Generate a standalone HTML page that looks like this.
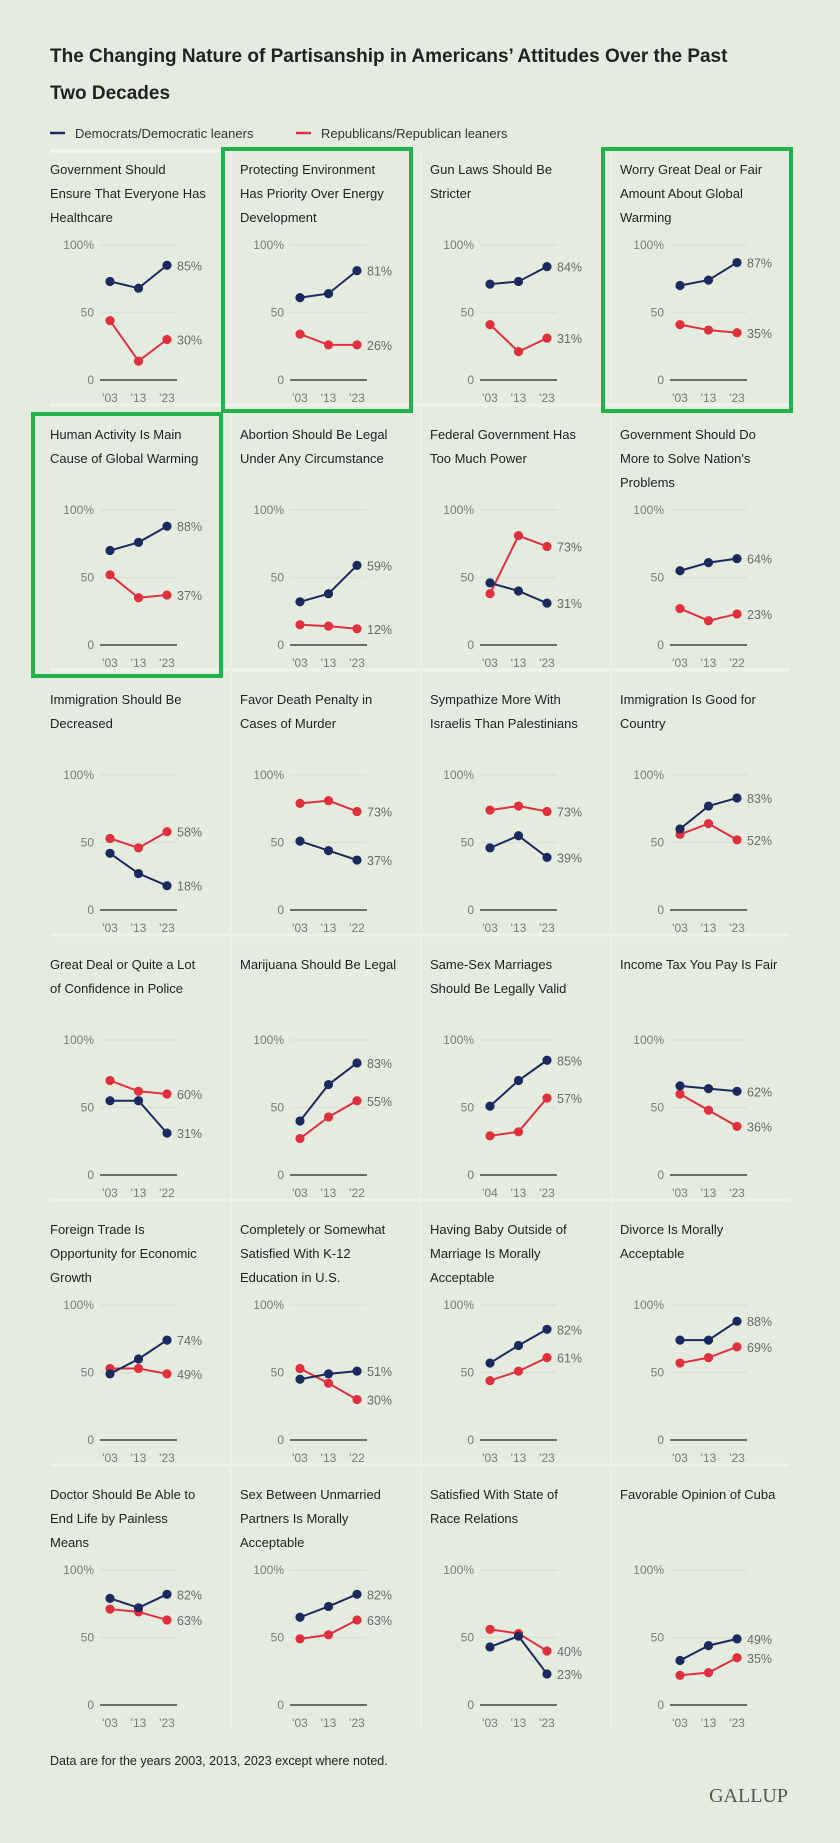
<!DOCTYPE html>
<html><head><meta charset="utf-8">
<style>
html,body{margin:0;padding:0;background:#e4ecdf;}
body{width:840px;height:1843px;position:relative;overflow:hidden;font-family:"Liberation Sans",sans-serif;}
svg{position:absolute;left:0;top:0;}
</style></head>
<body>
<svg id="chart" width="840" height="1843" viewBox="0 0 840 1843" xmlns="http://www.w3.org/2000/svg">
<text x="50" y="62" font-size="19" font-weight="bold" fill="#222">The Changing Nature of Partisanship in Americans’ Attitudes Over the Past</text>
<text x="50" y="99" font-size="19" font-weight="bold" fill="#222">Two Decades</text>
<g>
<line x1="50" y1="133" x2="65" y2="133" stroke="#1b2a5e" stroke-width="2.5"/>
<text x="75" y="138" font-size="13" fill="#333">Democrats/Democratic leaners</text>
<line x1="296" y1="133" x2="311" y2="133" stroke="#e0303e" stroke-width="2.5"/>
<text x="321" y="138" font-size="13" fill="#333">Republicans/Republican leaners</text>
</g>
<g id="panels"></g>
<text x="50" y="1765" font-size="12.5" fill="#222">Data are for the years 2003, 2013, 2023 except where noted.</text>
<text x="788" y="1802" font-size="20" text-anchor="end" fill="#555" font-family="Liberation Serif, serif">GALLUP</text>
</svg>
<script>
const titles = [
 ["Government  Should","Ensure That Everyone Has","Healthcare"],
 ["Protecting Environment","Has Priority Over Energy","Development"],
 ["Gun Laws Should Be","Stricter"],
 ["Worry Great Deal or Fair","Amount About Global","Warming"],
 ["Human Activity Is Main","Cause of Global Warming"],
 ["Abortion Should Be Legal","Under Any Circumstance"],
 ["Federal Government Has","Too Much Power"],
 ["Government Should Do","More to Solve Nation's","Problems"],
 ["Immigration Should Be","Decreased"],
 ["Favor Death Penalty in","Cases of Murder"],
 ["Sympathize More With","Israelis Than Palestinians"],
 ["Immigration Is Good for","Country"],
 ["Great Deal or Quite a Lot","of Confidence in Police"],
 ["Marijuana Should Be Legal"],
 ["Same-Sex Marriages","Should Be Legally Valid"],
 ["Income Tax You Pay Is Fair"],
 ["Foreign Trade Is","Opportunity for Economic","Growth"],
 ["Completely or Somewhat","Satisfied With K-12","Education in U.S."],
 ["Having Baby Outside of","Marriage Is Morally","Acceptable"],
 ["Divorce Is Morally","Acceptable"],
 ["Doctor Should Be Able to","End Life by Painless","Means"],
 ["Sex Between Unmarried","Partners Is Morally","Acceptable"],
 ["Satisfied With State of","Race Relations"],
 ["Favorable Opinion of Cuba"]
];
const years = [
 ["'03","'13","'23"],["'03","'13","'23"],["'03","'13","'23"],["'03","'13","'23"],
 ["'03","'13","'23"],["'03","'13","'23"],["'03","'13","'23"],["'03","'13","'22"],
 ["'03","'13","'23"],["'03","'13","'22"],["'03","'13","'23"],["'03","'13","'23"],
 ["'03","'13","'22"],["'03","'13","'22"],["'04","'13","'23"],["'03","'13","'23"],
 ["'03","'13","'23"],["'03","'13","'22"],["'03","'13","'23"],["'03","'13","'23"],
 ["'03","'13","'23"],["'03","'13","'23"],["'03","'13","'23"],["'03","'13","'23"]
];
const demValues = [
 [73,68,85],[61,64,81],[71,73,84],[70,74,87],
 [70,76,88],[32,38,59],[46,40,31],[55,61,64],
 [42,27,18],[51,44,37],[46,55,39],[60,77,83],
 [55,55,31],[40,67,83],[51,70,85],[66,64,62],
 [49,60,74],[45,49,51],[57,70,82],[74,74,88],
 [79,72,82],[65,73,82],[43,51,23],[33,44,49]
];
const repValues = [
 [44,14,30],[34,26,26],[41,21,31],[41,37,35],
 [52,35,37],[15,14,12],[38,81,73],[27,18,23],
 [53,46,58],[79,81,73],[74,77,73],[56,64,52],
 [70,62,60],[27,43,55],[29,32,57],[60,48,36],
 [53,53,49],[53,42,30],[44,51,61],[57,61,69],
 [71,69,63],[49,52,63],[56,53,40],[22,24,35]
];
const highlighted = [1,3,4];
const yTicks = [0,50,100];
const yTickLabels = ["0","50","100%"];

const NS = "http://www.w3.org/2000/svg";
const root = document.getElementById('panels');
function mk(tag, attrs, parent){
  const e = document.createElementNS(NS, tag);
  for (const k in attrs) e.setAttribute(k, attrs[k]);
  parent.appendChild(e);
  return e;
}
const colX = c => 50 + c*190;
const rowY = r => 170 + r*265;

// separators
for (let r = 1; r < 6; r++) {
  const l = mk('line', {x1:50, x2:790, y1:rowY(r)-30, y2:rowY(r)-30, stroke:'#edf3e9', 'stroke-width':3}, root);
  
  
}
for (let c = 1; c < 4; c++) {
  const l = mk('line', {x1:colX(c)-9, x2:colX(c)-9, y1:150, y2:1730, stroke:'#e9f0e5', 'stroke-width':2}, root);
  
  
}
const ul = mk('line', {x1:50, x2:230, y1:151, y2:151, stroke:'#f4f8f1', 'stroke-width':3}, root);



titles.forEach((t, i) => {
  const c = i % 4, r = Math.floor(i / 4);
  const x0 = colX(c), y0 = rowY(r);
  const g = mk('g', {}, root);
  
  
  t.forEach((line, k) => {
    const tx = mk('text', {x:x0, y:y0 + 4 + k*24, 'font-size':13, fill:'#222'}, g);
    tx.textContent = line;
    
    
  });
  const yTop = y0 + 75, yBase = y0 + 210;
  const ys = v => yBase - v/100*(yBase - yTop);
  const xs = j => x0 + 60 + j*28.5;
  yTicks.forEach((tv, k) => {
    const gl = mk('line', {x1:x0+50, x2:x0+127, y1:ys(tv), y2:ys(tv), stroke: tv===0 ? '#222' : '#d8e2d3', 'stroke-width': tv===0 ? 1.3 : 1.5}, g);
    
    
    const lb = mk('text', {x:x0+44, y:ys(tv)+4, 'font-size':12, fill:'#7a7a7a', 'text-anchor':'end'}, g);
    lb.textContent = yTickLabels[k];
    
    
  });
  years[i].forEach((yr, j) => {
    const lb = mk('text', {x:xs(j), y:yBase+22, 'font-size':12, fill:'#7a7a7a', 'text-anchor':'middle'}, g);
    lb.textContent = yr;
    
    
  });
  const series = [[repValues[i], '#e0303e', 'republican'], [demValues[i], '#1b2a5e', 'democrat']];
  const labelY = series.map(s => ys(s[0][2]) + 5);
  if (Math.abs(labelY[0]-labelY[1]) < 16) {
    const m = (labelY[0]+labelY[1])/2;
    const up = labelY[0] < labelY[1] ? 0 : 1;
    labelY[up] = m - 8; labelY[1-up] = m + 8;
  }
  series.forEach((s, si) => {
    const vals = s[0];
    const p = mk('polyline', {points: vals.map((v,j)=>xs(j)+','+ys(v)).join(' '), fill:'none', stroke:s[1], 'stroke-width':2}, g);
    
    
    vals.forEach((v, j) => {
      const cc = mk('circle', {cx:xs(j), cy:ys(v), r:4.6, fill:s[1]}, g);
      
      
    });
    const vl = mk('text', {x:x0+127, y:labelY[si], 'font-size':12.5, fill:'#6a6a6a'}, g);
    vl.textContent = vals[2] + '%';
    
    
  });
  if (highlighted.includes(i)) {
    const b = mk('rect', {x:x0-17, y:y0-21, width:188, height:262, fill:'none', stroke:'#22b14c', 'stroke-width':4}, g);
    
    
  }
});
</script>
</body></html>
